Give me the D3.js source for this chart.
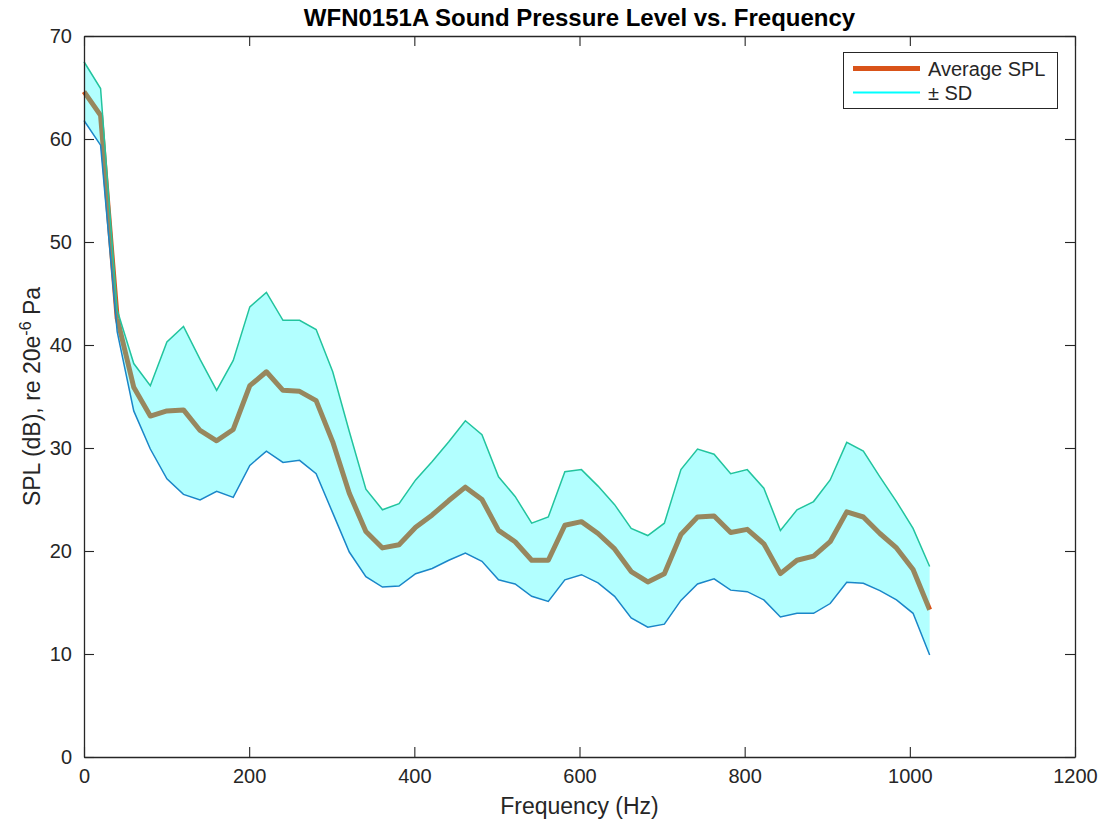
<!DOCTYPE html>
<html>
<head>
<meta charset="utf-8">
<script src="https://cdn.jsdelivr.net/npm/d3@7"></script>
<style>
  html, body { margin: 0; padding: 0; background: #fff; }
  svg { display: block; font-family: "Liberation Sans", Arial, Helvetica, sans-serif; }
</style>
</head>
<body>
<svg id="chart" width="1110" height="829"></svg>
<script>
// ---- data ----
const freqHz = [0,20.08,40.16,60.24,80.31,100.39,120.47,140.55,160.63,180.71,
  200.78,220.86,240.94,261.02,281.10,301.18,321.25,341.33,361.41,381.49,
  401.57,421.65,441.73,461.80,481.88,501.96,522.04,542.12,562.20,582.27,
  602.35,622.43,642.51,662.59,682.67,702.75,722.82,742.90,762.98,783.06,
  803.14,823.22,843.29,863.37,883.45,903.53,923.61,943.69,963.76,983.84,
  1003.92,1024];
const meanSPL = [64.6,62.3,42.6,35.9,33.1,33.6,33.7,31.7,30.7,31.8,
  36.05,37.4,35.6,35.5,34.6,30.6,25.6,21.9,20.3,20.6,
  22.3,23.5,24.9,26.2,25.0,22.0,20.9,19.1,19.1,22.5,
  22.85,21.7,20.2,18.0,17.0,17.8,21.6,23.3,23.4,21.8,
  22.1,20.7,17.8,19.1,19.5,20.9,23.8,23.3,21.7,20.3,
  18.2,14.3];
const upperSD = [67.5,64.9,43.4,38.2,36.05,40.3,41.8,38.6,35.6,38.5,
  43.7,45.1,42.4,42.4,41.5,37.4,31.6,26.0,24.0,24.6,
  26.9,28.7,30.6,32.65,31.3,27.2,25.3,22.7,23.3,27.7,
  27.9,26.3,24.5,22.2,21.5,22.7,27.9,29.9,29.4,27.5,
  27.9,26.1,22.0,24.0,24.8,26.9,30.55,29.7,27.2,24.8,
  22.2,18.5];
const lowerSD = [61.8,59.4,41.3,33.6,29.9,27.0,25.5,24.95,25.8,25.2,
  28.3,29.7,28.6,28.8,27.5,23.7,19.9,17.5,16.5,16.6,
  17.8,18.3,19.1,19.8,19.0,17.2,16.8,15.6,15.1,17.2,
  17.7,16.9,15.6,13.5,12.6,12.9,15.2,16.8,17.3,16.2,
  16.05,15.25,13.6,13.95,13.95,14.9,16.96,16.86,16.15,15.25,
  13.95,9.9];
const xTicks = [0,200,400,600,800,1000,1200];
const yTicks = [0,10,20,30,40,50,60,70];
const titleText = "WFN0151A Sound Pressure Level vs. Frequency";
const xLabelText = "Frequency (Hz)";
const legendLabels = ["Average SPL", "\u00b1 SD"];

// ---- layout ----
const L = 84, R = 1075, T = 36, B = 757;
const axisColor = "#262626";
const svg = d3.select("#chart");
const x = d3.scaleLinear().domain([0, 1200]).range([L, R]);
const y = d3.scaleLinear().domain([0, 70]).range([B, T]);

const rows = freqHz.map((f, i) => ({ f, m: meanSPL[i], u: upperSD[i], l: lowerSD[i] }));

// mean line (drawn beneath the translucent fill)
svg.append("path")
  .datum(rows)
  .attr("fill", "none")
  .attr("stroke", "#D95319")
  .attr("stroke-width", 5)
  .attr("stroke-linejoin", "round")
  .attr("d", d3.line().x(d => x(d.f)).y(d => y(d.m)));

// SD band fill
svg.append("path")
  .datum(rows)
  .attr("fill", "#00ffff")
  .attr("fill-opacity", 0.3)
  .attr("stroke", "none")
  .attr("d", d3.area().x(d => x(d.f)).y0(d => y(d.l)).y1(d => y(d.u)));

// upper and lower lines
svg.append("path")
  .datum(rows)
  .attr("fill", "none")
  .attr("stroke", "#22c49e")
  .attr("stroke-width", 1.5)
  .attr("d", d3.line().x(d => x(d.f)).y(d => y(d.u)));
svg.append("path")
  .datum(rows)
  .attr("fill", "none")
  .attr("stroke", "#1a86c8")
  .attr("stroke-width", 1.5)
  .attr("d", d3.line().x(d => x(d.f)).y(d => y(d.l)));

// ---- axes ----
const tickLen = 10;
const gx = svg.append("g").attr("transform", `translate(0,${B})`)
  .call(d3.axisBottom(x).tickValues(xTicks).tickSizeInner(-tickLen).tickSizeOuter(0).tickPadding(12).tickFormat(d3.format("d")));
const gxt = svg.append("g").attr("transform", `translate(0,${T})`)
  .call(d3.axisTop(x).tickValues(xTicks).tickSizeInner(-tickLen).tickSizeOuter(0).tickFormat(""));
const gy = svg.append("g").attr("transform", `translate(${L},0)`)
  .call(d3.axisLeft(y).tickValues(yTicks).tickSizeInner(-tickLen).tickSizeOuter(0).tickPadding(12).tickFormat(d3.format("d")));
const gyr = svg.append("g").attr("transform", `translate(${R},0)`)
  .call(d3.axisRight(y).tickValues(yTicks).tickSizeInner(-tickLen).tickSizeOuter(0).tickFormat(""));
[gx, gxt, gy, gyr].forEach(g => {
  g.select(".domain").attr("stroke", axisColor).attr("stroke-width", 1.3);
  g.selectAll(".tick line").attr("stroke", axisColor).attr("stroke-width", 1.1);
  g.selectAll(".tick text").attr("fill", axisColor).style("font-size", "20px")
    .style("font-family", "'Liberation Sans', Arial, Helvetica, sans-serif");
});
gx.selectAll(".tick text").attr("dy", "0.71em");

// title
svg.append("text")
  .attr("x", (L + R) / 2).attr("y", 26)
  .attr("text-anchor", "middle")
  .attr("fill", "#000")
  .style("font-size", "24px").style("font-weight", "bold")
  .text(titleText);

// x label
svg.append("text")
  .attr("x", (L + R) / 2).attr("y", 814)
  .attr("text-anchor", "middle")
  .attr("fill", axisColor)
  .style("font-size", "23px")
  .text(xLabelText);

// y label with superscript
const yl = svg.append("text")
  .attr("transform", `translate(40,${(T + B) / 2}) rotate(-90)`)
  .attr("text-anchor", "middle")
  .attr("fill", axisColor)
  .style("font-size", "23px");
yl.append("tspan").text("SPL (dB), re 20e");
yl.append("tspan").attr("dy", -9).style("font-size", "16px").text("-6");
yl.append("tspan").attr("dy", 9).text(" Pa");

// ---- legend ----
const lg = svg.append("g");
lg.append("rect")
  .attr("x", 843.5).attr("y", 52.5).attr("width", 214).attr("height", 56)
  .attr("fill", "#fff").attr("stroke", axisColor).attr("stroke-width", 1);
const legendColors = ["#D95319", "#00ffff"];
const legendWidths = [5, 2];
legendLabels.forEach((lab, i) => {
  const yy = 68.5 + i * 24;
  lg.append("line").attr("x1", 853).attr("x2", 920).attr("y1", yy).attr("y2", yy)
    .attr("stroke", legendColors[i]).attr("stroke-width", legendWidths[i]);
  lg.append("text").attr("x", 928).attr("y", yy).attr("dy", "0.35em")
    .attr("fill", axisColor).style("font-size", "20px").text(lab);
});
</script>
</body>
</html>
